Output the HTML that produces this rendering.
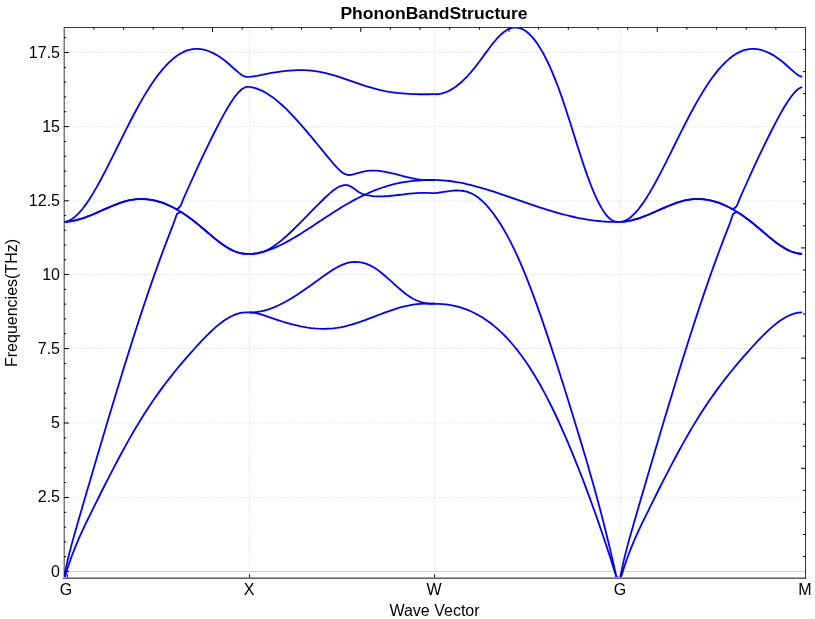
<!DOCTYPE html>
<html><head><meta charset="utf-8"><title>PhononBandStructure</title>
<style>
html,body{margin:0;padding:0;background:#fff;}
html{width:815px;height:619px;overflow:hidden;}
body{width:815px;height:619px;position:relative;overflow:hidden;font-family:"Liberation Sans",sans-serif;color:#000;}
.title{position:absolute;left:234.4px;width:400px;top:3.6px;transform:scaleX(1.0965);transform-origin:50% 0;text-align:center;font-weight:bold;font-size:16px;line-height:20px;white-space:nowrap;}
.yl,.xl,.xt,.title,.yt span{will-change:transform;}
.yl{position:absolute;left:0.6px;width:59px;text-align:right;font-size:16px;line-height:20px;height:20px;white-space:nowrap;}
.xl{position:absolute;top:580.2px;width:20px;text-align:center;font-size:16px;line-height:20px;white-space:nowrap;}
.xt{position:absolute;left:53.8px;width:761px;top:602.6px;text-align:center;font-size:16px;line-height:16px;height:16px;white-space:nowrap;}
.yt{position:absolute;left:2px;top:302.5px;width:0;height:0;}
.yt span{position:absolute;display:block;width:300px;left:-150px;top:0;text-align:center;font-size:16px;line-height:20px;white-space:nowrap;transform:rotate(-90deg);transform-origin:50% 0;}
</style></head><body>
<svg width="815" height="619" viewBox="0 0 815 619" style="position:absolute;left:0;top:0">
<defs><clipPath id="c"><rect x="64" y="27" width="741.5" height="551"/></clipPath></defs>
<path d="M69,497.5 H805 M69,423.0 H805 M69,348.5 H805 M69,274.5 H805 M69,200.8 H805 M69,126.6 H805 M69,52.5 H805 M67.4,28.5 V574.5 M249.55,28.5 V574.5 M434.55,28.5 V574.5 M620.55,28.5 V574.5" stroke="#dbdbdb" stroke-width="1" stroke-dasharray="1 1.5" fill="none"/>
<path d="M66,571.5 H805" stroke="#d0d0d0" stroke-width="1" shape-rendering="crispEdges"/>
<rect x="63.5" y="27" width="1.5" height="552" fill="#787878"/>
<g clip-path="url(#c)" fill="none" stroke="#0000ff" stroke-width="1.8" stroke-linejoin="round" stroke-linecap="butt">
<path d="M64.25,221.90 L67.88,221.21 L71.52,219.39 L75.15,216.68 L78.78,213.18 L82.42,208.98 L86.05,204.15 L89.69,198.77 L93.32,192.90 L96.95,186.63 L100.59,180.02 L104.22,173.16 L107.85,166.10 L111.49,158.90 L115.12,151.61 L118.75,144.27 L122.39,136.95 L126.02,129.68 L129.65,122.51 L133.29,115.51 L136.92,108.71 L140.56,102.17 L144.19,95.91 L147.82,89.95 L151.46,84.32 L155.09,79.03 L158.72,74.12 L162.36,69.61 L165.99,65.50 L169.62,61.82 L173.26,58.58 L176.89,55.78 L180.52,53.44 L184.16,51.58 L187.79,50.20 L191.43,49.30 L195.06,48.88 L198.69,48.90 L202.33,49.36 L205.96,50.23 L209.59,51.49 L213.23,53.12 L216.86,55.11 L220.49,57.43 L224.13,60.07 L227.76,63.01 L231.39,66.20 L235.03,69.48 L238.66,72.66 L242.30,75.48 L245.93,76.87 L249.56,76.87"/>
<path d="M620.45,221.90 L624.08,221.21 L627.72,219.39 L631.35,216.68 L634.98,213.18 L638.62,208.98 L642.25,204.15 L645.89,198.77 L649.52,192.90 L653.15,186.63 L656.79,180.02 L660.42,173.16 L664.05,166.10 L667.69,158.90 L671.32,151.61 L674.95,144.27 L678.59,136.95 L682.22,129.68 L685.85,122.51 L689.49,115.51 L693.12,108.71 L696.76,102.17 L700.39,95.91 L704.02,89.95 L707.66,84.32 L711.29,79.03 L714.92,74.12 L718.56,69.61 L722.19,65.50 L725.82,61.82 L729.46,58.58 L733.09,55.78 L736.72,53.44 L740.36,51.58 L743.99,50.20 L747.63,49.30 L751.26,48.88 L754.89,48.90 L758.53,49.36 L762.16,50.23 L765.79,51.49 L769.43,53.12 L773.06,55.11 L776.69,57.43 L780.33,60.07 L783.96,63.01 L787.59,66.20 L791.23,69.48 L794.86,72.66 L798.50,75.48 L802.13,76.87"/>
<path d="M64.25,221.87 L67.88,221.64 L71.52,221.14 L75.15,220.42 L78.78,219.48 L82.42,218.37 L86.05,217.10 L89.69,215.71 L93.32,214.22 L96.95,212.65 L100.59,211.05 L104.22,209.44 L107.85,207.84 L111.49,206.29 L115.12,204.82 L118.75,203.44 L122.39,202.20 L126.02,201.12 L129.65,200.23 L133.29,199.55 L136.92,199.12 L140.56,198.93 L144.19,198.99 L147.82,199.28 L151.46,199.80 L155.09,200.55 L158.72,201.52 L162.36,202.71 L165.99,204.11 L169.62,205.71 L173.26,207.51 L176.89,209.50 L180.52,211.67 L184.16,214.00 L187.79,216.50 L191.43,219.16 L195.06,221.96 L198.69,224.89 L202.33,227.94 L205.96,231.04 L209.59,234.14 L213.23,237.20 L216.86,240.15 L220.49,242.94 L224.13,245.52 L227.76,247.84 L231.39,249.85 L235.03,251.49 L238.66,252.71 L242.30,253.51 L245.93,253.85 L249.56,253.85"/>
<path d="M620.45,221.87 L624.08,221.64 L627.72,221.14 L631.35,220.42 L634.98,219.48 L638.62,218.37 L642.25,217.10 L645.89,215.71 L649.52,214.22 L653.15,212.65 L656.79,211.05 L660.42,209.44 L664.05,207.84 L667.69,206.29 L671.32,204.82 L674.95,203.44 L678.59,202.20 L682.22,201.12 L685.85,200.23 L689.49,199.55 L693.12,199.12 L696.76,198.93 L700.39,198.99 L704.02,199.28 L707.66,199.80 L711.29,200.55 L714.92,201.52 L718.56,202.71 L722.19,204.11 L725.82,205.71 L729.46,207.51 L733.09,209.50 L736.72,211.67 L740.36,214.00 L743.99,216.50 L747.63,219.16 L751.26,221.96 L754.89,224.89 L758.53,227.94 L762.16,231.04 L765.79,234.14 L769.43,237.20 L773.06,240.15 L776.69,242.94 L780.33,245.52 L783.96,247.84 L787.59,249.85 L791.23,251.49 L794.86,252.71 L798.50,253.51 L802.13,253.85"/>
<path d="M64.25,576.09 L67.88,559.15 L71.52,544.88 L75.15,531.96 L78.78,519.33 L82.42,506.79 L86.05,494.32 L89.69,481.92 L93.32,469.57 L96.95,457.26 L100.59,444.99 L104.22,432.75 L107.85,420.56 L111.49,408.45 L115.12,396.40 L118.75,384.46 L122.39,372.61 L126.02,360.88 L129.65,349.28 L133.29,337.82 L136.92,326.52 L140.56,315.38 L144.19,304.43 L147.82,293.66 L151.46,283.10 L155.09,272.76 L158.72,262.64 L162.36,252.75 L165.99,243.07 L169.62,233.61 L173.26,224.30 L176.89,214.00 L180.52,211.67 L184.16,214.00 L187.79,216.50 L191.43,219.16 L195.06,221.96 L198.69,224.89 L202.33,227.94 L205.96,231.04 L209.59,234.14 L213.23,237.20 L216.86,240.15 L220.49,242.94 L224.13,245.52 L227.76,247.84 L231.39,249.85 L235.03,251.49 L238.66,252.71 L242.30,253.51 L245.93,253.85 L249.56,253.85"/>
<path d="M620.45,576.09 L624.08,559.15 L627.72,544.88 L631.35,531.96 L634.98,519.33 L638.62,506.79 L642.25,494.32 L645.89,481.92 L649.52,469.57 L653.15,457.26 L656.79,444.99 L660.42,432.75 L664.05,420.56 L667.69,408.45 L671.32,396.40 L674.95,384.46 L678.59,372.61 L682.22,360.88 L685.85,349.28 L689.49,337.82 L693.12,326.52 L696.76,315.38 L700.39,304.43 L704.02,293.66 L707.66,283.10 L711.29,272.76 L714.92,262.64 L718.56,252.75 L722.19,243.07 L725.82,233.61 L729.46,224.30 L733.09,214.00 L736.72,211.67 L740.36,214.00 L743.99,216.50 L747.63,219.16 L751.26,221.96 L754.89,224.89 L758.53,227.94 L762.16,231.04 L765.79,234.14 L769.43,237.20 L773.06,240.15 L776.69,242.94 L780.33,245.52 L783.96,247.84 L787.59,249.85 L791.23,251.49 L794.86,252.71 L798.50,253.51 L802.13,253.85"/>
<path d="M64.25,221.87 L67.88,221.64 L71.52,221.14 L75.15,220.42 L78.78,219.48 L82.42,218.37 L86.05,217.10 L89.69,215.71 L93.32,214.22 L96.95,212.65 L100.59,211.05 L104.22,209.44 L107.85,207.84 L111.49,206.29 L115.12,204.82 L118.75,203.44 L122.39,202.20 L126.02,201.12 L129.65,200.23 L133.29,199.55 L136.92,199.12 L140.56,198.93 L144.19,198.99 L147.82,199.28 L151.46,199.80 L155.09,200.55 L158.72,201.52 L162.36,202.71 L165.99,204.11 L169.62,205.71 L173.26,207.51 L176.89,209.50 L180.52,206.00 L184.16,197.10 L187.79,189.00 L191.43,181.00 L195.06,172.88 L198.69,164.93 L202.33,157.15 L205.96,149.54 L209.59,142.08 L213.23,134.77 L216.86,127.61 L220.49,120.61 L224.13,113.87 L227.76,107.52 L231.39,101.70 L235.03,96.54 L238.66,92.18 L242.30,88.75 L245.93,86.94 L249.56,86.94"/>
<path d="M620.45,221.87 L624.08,221.64 L627.72,221.14 L631.35,220.42 L634.98,219.48 L638.62,218.37 L642.25,217.10 L645.89,215.71 L649.52,214.22 L653.15,212.65 L656.79,211.05 L660.42,209.44 L664.05,207.84 L667.69,206.29 L671.32,204.82 L674.95,203.44 L678.59,202.20 L682.22,201.12 L685.85,200.23 L689.49,199.55 L693.12,199.12 L696.76,198.93 L700.39,198.99 L704.02,199.28 L707.66,199.80 L711.29,200.55 L714.92,201.52 L718.56,202.71 L722.19,204.11 L725.82,205.71 L729.46,207.51 L733.09,209.50 L736.72,206.00 L740.36,197.10 L743.99,189.00 L747.63,181.00 L751.26,172.88 L754.89,164.93 L758.53,157.15 L762.16,149.54 L765.79,142.08 L769.43,134.77 L773.06,127.61 L776.69,120.61 L780.33,113.87 L783.96,107.52 L787.59,101.70 L791.23,96.54 L794.86,92.18 L798.50,88.75 L802.13,86.94"/>
<path d="M64.25,579.08 L67.88,567.32 L71.52,556.80 L75.15,547.31 L78.78,538.65 L82.42,530.61 L86.05,522.97 L89.69,515.53 L93.32,508.14 L96.95,500.79 L100.59,493.50 L104.22,486.27 L107.85,479.12 L111.49,472.05 L115.12,465.09 L118.75,458.22 L122.39,451.48 L126.02,444.86 L129.65,438.39 L133.29,432.06 L136.92,425.90 L140.56,419.91 L144.19,414.10 L147.82,408.47 L151.46,403.02 L155.09,397.74 L158.72,392.61 L162.36,387.64 L165.99,382.80 L169.62,378.09 L173.26,373.50 L176.89,369.03 L180.52,364.66 L184.16,360.38 L187.79,356.18 L191.43,352.07 L195.06,348.01 L198.69,344.03 L202.33,340.14 L205.96,336.38 L209.59,332.77 L213.23,329.36 L216.86,326.17 L220.49,323.23 L224.13,320.58 L227.76,318.24 L231.39,316.25 L235.03,314.64 L238.66,313.44 L242.30,312.68 L245.93,312.40 L249.56,312.40"/>
<path d="M620.45,579.08 L624.08,567.32 L627.72,556.80 L631.35,547.31 L634.98,538.65 L638.62,530.61 L642.25,522.97 L645.89,515.53 L649.52,508.14 L653.15,500.79 L656.79,493.50 L660.42,486.27 L664.05,479.12 L667.69,472.05 L671.32,465.09 L674.95,458.22 L678.59,451.48 L682.22,444.86 L685.85,438.39 L689.49,432.06 L693.12,425.90 L696.76,419.91 L700.39,414.10 L704.02,408.47 L707.66,403.02 L711.29,397.74 L714.92,392.61 L718.56,387.64 L722.19,382.80 L725.82,378.09 L729.46,373.50 L733.09,369.03 L736.72,364.66 L740.36,360.38 L743.99,356.18 L747.63,352.07 L751.26,348.01 L754.89,344.03 L758.53,340.14 L762.16,336.38 L765.79,332.77 L769.43,329.36 L773.06,326.17 L776.69,323.23 L780.33,320.58 L783.96,318.24 L787.59,316.25 L791.23,314.64 L794.86,313.44 L798.50,312.68 L802.13,312.40"/>
<path d="M249.56,76.82 L253.20,76.43 L256.83,75.77 L260.46,75.02 L264.10,74.28 L267.73,73.59 L271.36,72.94 L275.00,72.34 L278.63,71.79 L282.26,71.32 L285.90,70.91 L289.53,70.58 L293.17,70.34 L296.80,70.20 L300.43,70.15 L304.07,70.20 L307.70,70.37 L311.33,70.67 L314.97,71.08 L318.60,71.64 L322.23,72.32 L325.87,73.14 L329.50,74.06 L333.13,75.08 L336.77,76.18 L340.40,77.34 L344.04,78.56 L347.67,79.80 L351.30,81.07 L354.94,82.34 L358.57,83.60 L362.20,84.83 L365.84,86.02 L369.47,87.16 L373.10,88.22 L376.74,89.20 L380.37,90.07 L384.00,90.84 L387.64,91.52 L391.27,92.11 L394.91,92.61 L398.54,93.03 L402.17,93.38 L405.81,93.66 L409.44,93.88 L413.07,94.04 L416.71,94.16 L420.34,94.23 L423.97,94.25 L427.61,94.25 L431.24,94.22 L434.88,94.22"/>
<path d="M249.56,86.89 L253.20,87.56 L256.83,88.62 L260.46,90.06 L264.10,91.84 L267.73,93.96 L271.36,96.38 L275.00,99.09 L278.63,102.06 L282.26,105.27 L285.90,108.70 L289.53,112.32 L293.17,116.12 L296.80,120.07 L300.43,124.15 L304.07,128.34 L307.70,132.61 L311.33,136.95 L314.97,141.34 L318.60,145.76 L322.23,150.18 L325.87,154.59 L329.50,158.98 L333.13,163.31 L336.77,167.44 L340.40,171.02 L344.04,173.67 L347.67,175.02 L351.30,174.93 L354.94,173.97 L358.57,172.83 L362.20,171.88 L365.84,171.15 L369.47,170.72 L373.10,170.58 L376.74,170.70 L380.37,171.04 L384.00,171.58 L387.64,172.26 L391.27,173.07 L394.91,173.96 L398.54,174.90 L402.17,175.85 L405.81,176.78 L409.44,177.65 L413.07,178.44 L416.71,179.12 L420.34,179.64 L423.97,179.98 L427.61,180.11 L431.24,179.99 L434.88,179.99"/>
<path d="M249.56,253.89 L253.20,254.00 L256.83,253.59 L260.46,252.72 L264.10,251.42 L267.73,249.72 L271.36,247.67 L275.00,245.28 L278.63,242.61 L282.26,239.69 L285.90,236.55 L289.53,233.22 L293.17,229.75 L296.80,226.18 L300.43,222.52 L304.07,218.83 L307.70,215.12 L311.33,211.41 L314.97,207.72 L318.60,204.07 L322.23,200.49 L325.87,196.98 L329.50,193.61 L333.13,190.55 L336.77,187.97 L340.40,186.07 L344.04,185.03 L347.67,185.15 L351.30,186.73 L354.94,189.34 L358.57,191.93 L362.20,193.78 L365.84,194.97 L369.47,195.68 L373.10,196.09 L376.74,196.31 L380.37,196.36 L384.00,196.27 L387.64,196.07 L391.27,195.77 L394.91,195.40 L398.54,194.99 L402.17,194.55 L405.81,194.12 L409.44,193.71 L413.07,193.36 L416.71,193.08 L420.34,192.91 L423.97,192.85 L427.61,192.94 L431.24,193.21 L434.88,193.21"/>
<path d="M249.56,253.88 L253.20,253.64 L256.83,253.16 L260.46,252.44 L264.10,251.52 L267.73,250.39 L271.36,249.08 L275.00,247.60 L278.63,245.98 L282.26,244.22 L285.90,242.34 L289.53,240.36 L293.17,238.29 L296.80,236.13 L300.43,233.90 L304.07,231.61 L307.70,229.28 L311.33,226.91 L314.97,224.51 L318.60,222.10 L322.23,219.69 L325.87,217.28 L329.50,214.90 L333.13,212.55 L336.77,210.24 L340.40,207.99 L344.04,205.80 L347.67,203.68 L351.30,201.62 L354.94,199.64 L358.57,197.74 L362.20,195.92 L365.84,194.19 L369.47,192.56 L373.10,191.02 L376.74,189.58 L380.37,188.25 L384.00,187.02 L387.64,185.90 L391.27,184.88 L394.91,183.97 L398.54,183.15 L402.17,182.43 L405.81,181.81 L409.44,181.29 L413.07,180.85 L416.71,180.51 L420.34,180.26 L423.97,180.09 L427.61,180.00 L431.24,179.96 L434.88,179.96"/>
<path d="M249.56,312.52 L253.20,312.37 L256.83,311.99 L260.46,311.39 L264.10,310.58 L267.73,309.55 L271.36,308.31 L275.00,306.88 L278.63,305.27 L282.26,303.48 L285.90,301.55 L289.53,299.47 L293.17,297.27 L296.80,294.97 L300.43,292.57 L304.07,290.09 L307.70,287.55 L311.33,284.96 L314.97,282.34 L318.60,279.71 L322.23,277.07 L325.87,274.46 L329.50,271.96 L333.13,269.60 L336.77,267.46 L340.40,265.60 L344.04,264.07 L347.67,262.93 L351.30,262.22 L354.94,261.93 L358.57,262.07 L362.20,262.65 L365.84,263.66 L369.47,265.12 L373.10,267.03 L376.74,269.36 L380.37,272.05 L384.00,275.01 L387.64,278.16 L391.27,281.42 L394.91,284.71 L398.54,287.94 L402.17,291.04 L405.81,293.92 L409.44,296.50 L413.07,298.70 L416.71,300.50 L420.34,301.90 L423.97,302.90 L427.61,303.51 L431.24,303.73 L434.88,303.73"/>
<path d="M249.56,312.47 L253.20,312.73 L256.83,313.31 L260.46,314.19 L264.10,315.30 L267.73,316.57 L271.36,317.87 L275.00,319.14 L278.63,320.35 L282.26,321.51 L285.90,322.61 L289.53,323.64 L293.17,324.60 L296.80,325.47 L300.43,326.26 L304.07,326.95 L307.70,327.54 L311.33,328.03 L314.97,328.40 L318.60,328.65 L322.23,328.78 L325.87,328.77 L329.50,328.63 L333.13,328.34 L336.77,327.91 L340.40,327.31 L344.04,326.57 L347.67,325.69 L351.30,324.69 L354.94,323.58 L358.57,322.39 L362.20,321.12 L365.84,319.80 L369.47,318.44 L373.10,317.05 L376.74,315.65 L380.37,314.26 L384.00,312.89 L387.64,311.56 L391.27,310.29 L394.91,309.08 L398.54,307.97 L402.17,306.95 L405.81,306.05 L409.44,305.28 L413.07,304.67 L416.71,304.20 L420.34,303.87 L423.97,303.68 L427.61,303.61 L431.24,303.66 L434.88,303.66"/>
<path d="M434.88,94.23 L438.51,94.04 L442.14,93.37 L445.78,92.23 L449.41,90.60 L453.04,88.52 L456.68,86.00 L460.31,83.06 L463.94,79.73 L467.58,76.01 L471.21,71.93 L474.84,67.51 L478.48,62.78 L482.11,57.85 L485.75,52.87 L489.38,47.97 L493.01,43.29 L496.65,38.97 L500.28,35.15 L503.91,31.97 L507.55,29.57 L511.18,28.06 L514.81,27.46 L518.45,27.77 L522.08,28.96 L525.71,31.05 L529.35,34.02 L532.98,37.87 L536.62,42.58 L540.25,48.15 L543.88,54.54 L547.52,61.73 L551.15,69.69 L554.78,78.39 L558.42,87.80 L562.05,97.91 L565.68,108.67 L569.32,119.94 L572.95,131.50 L576.58,143.11 L580.22,154.57 L583.85,165.65 L587.49,176.11 L591.12,185.78 L594.75,194.54 L598.39,202.28 L602.02,208.90 L605.65,214.28 L609.29,218.31 L612.92,220.89 L616.55,221.91 L620.19,221.91"/>
<path d="M434.88,179.96 L438.51,180.08 L442.14,180.30 L445.78,180.61 L449.41,181.01 L453.04,181.50 L456.68,182.07 L460.31,182.73 L463.94,183.46 L467.58,184.26 L471.21,185.13 L474.84,186.06 L478.48,187.05 L482.11,188.09 L485.75,189.17 L489.38,190.30 L493.01,191.46 L496.65,192.66 L500.28,193.88 L503.91,195.12 L507.55,196.37 L511.18,197.64 L514.81,198.91 L518.45,200.18 L522.08,201.44 L525.71,202.70 L529.35,203.94 L532.98,205.17 L536.62,206.38 L540.25,207.57 L543.88,208.73 L547.52,209.87 L551.15,210.97 L554.78,212.04 L558.42,213.07 L562.05,214.06 L565.68,215.00 L569.32,215.90 L572.95,216.75 L576.58,217.54 L580.22,218.28 L583.85,218.95 L587.49,219.56 L591.12,220.11 L594.75,220.58 L598.39,220.99 L602.02,221.32 L605.65,221.58 L609.29,221.78 L612.92,221.90 L616.55,221.95 L620.19,221.95"/>
<path d="M434.88,193.21 L438.51,192.76 L442.14,192.20 L445.78,191.61 L449.41,191.07 L453.04,190.67 L456.68,190.47 L460.31,190.56 L463.94,191.01 L467.58,191.90 L471.21,193.32 L474.84,195.29 L478.48,197.81 L482.11,200.88 L485.75,204.46 L489.38,208.55 L493.01,213.12 L496.65,218.18 L500.28,223.71 L503.91,229.70 L507.55,236.17 L511.18,243.11 L514.81,250.53 L518.45,258.41 L522.08,266.77 L525.71,275.58 L529.35,284.80 L532.98,294.39 L536.62,304.34 L540.25,314.59 L543.88,325.12 L547.52,335.88 L551.15,346.86 L554.78,358.01 L558.42,369.32 L562.05,380.77 L565.68,392.35 L569.32,404.04 L572.95,415.82 L576.58,427.68 L580.22,439.63 L583.85,451.73 L587.49,464.05 L591.12,476.64 L594.75,489.57 L598.39,502.90 L602.02,516.68 L605.65,530.98 L609.29,545.86 L612.92,561.38 L616.55,577.60 L620.19,577.60"/>
<path d="M434.88,303.80 L438.51,303.87 L442.14,304.08 L445.78,304.43 L449.41,304.93 L453.04,305.59 L456.68,306.42 L460.31,307.41 L463.94,308.59 L467.58,309.94 L471.21,311.49 L474.84,313.22 L478.48,315.16 L482.11,317.31 L485.75,319.68 L489.38,322.26 L493.01,325.07 L496.65,328.11 L500.28,331.39 L503.91,334.92 L507.55,338.69 L511.18,342.73 L514.81,347.03 L518.45,351.60 L522.08,356.44 L525.71,361.57 L529.35,366.99 L532.98,372.71 L536.62,378.72 L540.25,385.04 L543.88,391.66 L547.52,398.58 L551.15,405.78 L554.78,413.26 L558.42,421.00 L562.05,429.02 L565.68,437.28 L569.32,445.80 L572.95,454.55 L576.58,463.54 L580.22,472.76 L583.85,482.19 L587.49,491.84 L591.12,501.71 L594.75,511.81 L598.39,522.15 L602.02,532.72 L605.65,543.55 L609.29,554.64 L612.92,565.98 L616.55,577.59 L620.19,577.59"/>
</g>
<g shape-rendering="crispEdges">
<rect x="63" y="577" width="743" height="1" fill="#a8a8a8"/>
<rect x="63" y="578" width="743" height="1" fill="#5e5e5e"/>
<rect x="64" y="27" width="742" height="1" fill="#333"/>
<rect x="805" y="27" width="1" height="552" fill="#333"/>
</g>
<path d="M64,571.50 H68.9 M64,556.70 H66.1 M64,541.90 H66.1 M64,527.10 H66.1 M64,512.30 H66.1 M64,497.50 H68.9 M64,482.60 H66.1 M64,467.70 H66.1 M64,452.80 H66.1 M64,437.90 H66.1 M64,423.00 H68.9 M64,408.10 H66.1 M64,393.20 H66.1 M64,378.30 H66.1 M64,363.40 H66.1 M64,348.50 H68.9 M64,333.70 H66.1 M64,318.90 H66.1 M64,304.10 H66.1 M64,289.30 H66.1 M64,274.50 H68.9 M64,259.76 H66.1 M64,245.02 H66.1 M64,230.28 H66.1 M64,215.54 H66.1 M64,200.80 H68.9 M64,185.96 H66.1 M64,171.12 H66.1 M64,156.28 H66.1 M64,141.44 H66.1 M64,126.60 H68.9 M64,111.78 H66.1 M64,96.96 H66.1 M64,82.14 H66.1 M64,67.32 H66.1 M64,52.50 H68.9 M64,37.67 H66.1 M67.4,574.4 V577.5 M249.55,574.4 V577.5 M434.55,574.4 V577.5 M620.55,574.4 V577.5 M93.90,27.5 V29.7 M123.55,27.5 V29.7 M153.20,27.5 V29.7 M182.85,27.5 V29.7 M212.50,27.5 V31.9 M242.15,27.5 V29.7 M271.80,27.5 V29.7 M301.45,27.5 V29.7 M331.10,27.5 V29.7 M360.75,27.5 V31.9 M390.40,27.5 V29.7 M420.05,27.5 V29.7 M449.70,27.5 V29.7 M479.35,27.5 V29.7 M509.00,27.5 V31.9 M538.65,27.5 V29.7 M568.30,27.5 V29.7 M597.95,27.5 V29.7 M627.60,27.5 V29.7 M657.25,27.5 V31.9 M686.90,27.5 V29.7 M716.55,27.5 V29.7 M746.20,27.5 V29.7 M775.85,27.5 V29.7 M805.5,49.54 H803.1 M805.5,71.58 H803.1 M805.5,93.62 H803.1 M805.5,115.66 H803.1 M805.5,137.70 H801.0 M805.5,159.74 H803.1 M805.5,181.78 H803.1 M805.5,203.82 H803.1 M805.5,225.86 H803.1 M805.5,247.90 H801.0 M805.5,269.94 H803.1 M805.5,291.98 H803.1 M805.5,314.02 H803.1 M805.5,336.06 H803.1 M805.5,358.10 H801.0 M805.5,380.14 H803.1 M805.5,402.18 H803.1 M805.5,424.22 H803.1 M805.5,446.26 H803.1 M805.5,468.30 H801.0 M805.5,490.34 H803.1 M805.5,512.38 H803.1 M805.5,534.42 H803.1 M805.5,556.46 H803.1" stroke="#000" stroke-width="1" fill="none"/>
</svg>
<div class="title">PhononBandStructure</div>
<div class="yl" style="top:561.5px">0</div>
<div class="yl" style="top:487.4px">2.5</div>
<div class="yl" style="top:413.2px">5</div>
<div class="yl" style="top:339.1px">7.5</div>
<div class="yl" style="top:264.9px">10</div>
<div class="yl" style="top:190.8px">12.5</div>
<div class="yl" style="top:116.6px">15</div>
<div class="yl" style="top:42.5px">17.5</div>
<div class="xl" style="left:56.0px">G</div>
<div class="xl" style="left:238.8px">X</div>
<div class="xl" style="left:423.8px">W</div>
<div class="xl" style="left:609.8px">G</div>
<div class="xl" style="left:794.5px">M</div>
<div class="xt">Wave Vector</div>
<div class="yt"><span>Frequencies(THz)</span></div>
</body></html>
